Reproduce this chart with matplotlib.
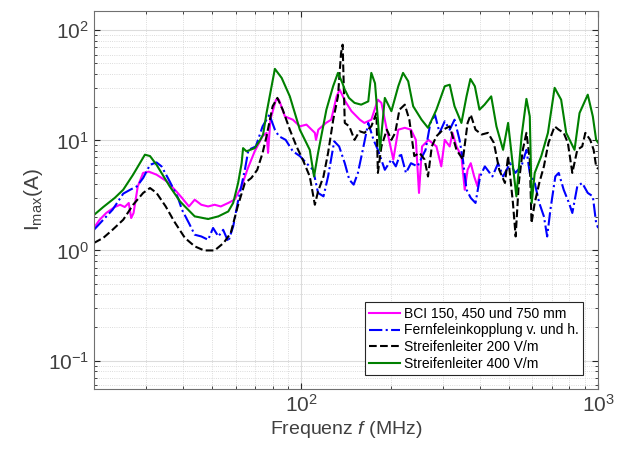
import numpy as np
import matplotlib
matplotlib.use("Agg")
import matplotlib.pyplot as plt
from matplotlib.ticker import LogLocator, NullFormatter

plt.rcParams['font.family'] = ['Liberation Sans', 'DejaVu Sans']
plt.rcParams['mathtext.fontset'] = 'custom'
plt.rcParams['mathtext.rm'] = 'Liberation Sans'
plt.rcParams['mathtext.it'] = 'Liberation Sans:italic'

# BCI 150, 450 und 750 mm
f_bci = [20, 20.9, 22.0, 23.5, 24.5, 25.4, 26.2, 26.7, 27.2, 28.1, 29.3, 30.6, 32.5, 35.2, 37.9,
         39.6, 41.8, 43.7, 46, 48.5, 51, 53.5, 56.7, 59.5, 62.9, 65.7, 69.6, 74, 76.3, 77.2,
         78.6, 82.1, 84, 88, 93.6, 98.8, 104, 111, 112, 114, 121, 126, 131.4, 134.6, 140,
         147.5, 157.4, 163, 172, 181, 186, 194, 204, 212, 223, 234, 243, 249, 255, 268,
         285, 296, 304, 316, 323, 333, 346, 355, 363, 372, 382, 392, 398]
i_bci = [1.6, 1.9, 2.19, 2.48, 2.6, 2.48, 2.7, 1.97, 2.19, 3.82, 5.06, 5.2, 4.88, 4.24, 3.44,
         3.0, 2.51, 2.89, 2.6, 2.51, 2.6, 2.51, 2.7, 2.89, 3.82, 5.4, 7.95, 10.9, 11.7, 7.7,
         15.4, 23.4, 23.4, 16.5, 15.4, 13.4, 13.9, 11.7, 10.1, 12.5, 14.4, 15.4, 25.1, 28.9, 23,
         18.4, 15.4, 14.4, 15.4, 23.4, 21.9, 12.5, 6.7, 12.5, 13, 12.5, 10.1, 3.33, 8.8, 10.1,
         8.8, 5.8, 10.1, 8.8, 11.7, 8.8, 7.2, 3.56, 5.4, 6.2, 4.7, 3.82, 4.88]

# Fernfeleinkopplung v. und h.
f_ff = [20, 21.5, 23.1, 25.1, 26.5, 27.9, 29.3, 30.9, 32.5, 33.8, 36.0, 38.4, 39.6, 41.8, 43.7,
        46, 48.5, 50.4, 52.5, 54.5, 56.7, 58.9, 61, 64.5, 66.3, 70.2, 74, 78, 81.4, 84, 88.5,
        93.6, 98.8, 104, 109.5, 113.8, 118.7, 123, 129, 134, 140, 145, 150, 155, 161, 168,
        175, 181, 191, 201, 208, 216, 225, 234, 246, 262, 272, 282, 292, 304, 316, 328, 341,
        350, 360, 372, 386, 400, 415, 440, 460, 478, 505, 525, 551, 573, 588, 611, 633, 656,
        673, 690, 717, 736, 765, 797, 818, 850, 883, 922, 959, 984, 1000]
i_ff = [1.54, 1.9, 2.34, 3.28, 3.56, 3.82, 4.55, 6.0, 6.3, 5.8, 4.24, 3.0, 2.34, 1.77, 1.39,
        1.34, 1.25, 1.6, 1.34, 1.54, 1.2, 1.65, 2.7, 5.4, 8.2, 8.8, 13.4, 17.1, 12.5, 10.9, 10.1,
        7.95, 7.2, 6.2, 5.4, 3.33, 3.1, 4.7, 9.8, 8.8, 6.2, 4.39, 3.96, 5.06, 8.2, 14.4,
        10.1, 8.2, 5.4, 6.7, 5.8, 7.7, 5.06, 6.2, 5.8, 8.2, 14.4, 17, 11.7, 14.9, 12.5, 15.4, 10.1,
        6.7, 3.56, 3.0, 2.7, 4.7, 5.8, 4.7, 6.2, 4.7, 6.2, 5.06, 5.8, 8.2, 5.06, 4.1, 2.7, 2.04,
        1.34, 2.34, 4.7, 5.06, 3.56, 2.7, 2.19, 3.82, 4.1, 3.33, 3.1, 1.77, 1.6]

# Streifenleiter 200 V/m
f_s200 = [20, 21.5, 23.1, 25.1, 27.1, 29.3, 30.9, 32.5, 34.9, 37.3, 40.5, 43.7, 47, 51, 54.7,
          57.8, 61, 64.5, 67.8, 71, 74, 76.3, 80, 83, 86.5, 91.4, 96.3, 101, 106.7, 111,
          113.8, 118.7, 123, 128, 132.8, 136, 137.7, 140, 145, 151, 157, 163, 172, 179, 181,
          186, 194, 201, 207, 214, 223, 231, 240, 250, 260, 267, 275, 285, 300, 316, 333, 350,
          363, 372, 386, 405, 425, 445, 464, 485, 497, 516, 527, 540, 557, 573, 588, 596, 611,
          633, 656, 680, 713, 736, 765, 790, 818, 850, 883, 905, 940, 965, 984, 1000]
i_s200 = [1.17, 1.3, 1.54, 1.9, 2.6, 3.33, 3.69, 3.33, 2.51, 1.83, 1.3, 1.09, 1.0, 1.0, 1.17,
          1.44, 2.51, 4.1, 4.55, 5.4, 7.7, 10.9, 20.4, 24.3, 19, 12.5, 8.8, 6.7, 4.7, 2.6,
          3.44, 4.7, 7.7, 15.4, 25.1, 62, 74, 14.4, 13.4, 10.1, 12.1, 11.7, 13.4, 17.7, 5.06,
          8.8, 12.5, 10.1, 11.7, 19, 21.1, 15.4, 7.2, 7.7, 6.7, 4.7, 8.8, 10.9, 12.5, 13.4, 8.2, 6.7,
          14.4, 17.1, 12.5, 11.3, 11.7, 9.5, 5.4, 4.1, 7.2, 2.7, 1.34, 4.1, 8.2, 11.7, 6.7, 1.77, 2.7,
          4.1, 5.8, 9.5, 13.4, 12.5, 11.7, 9.5, 5.06, 8.2, 8.8, 11.7, 10.1, 8.2, 5.8, 5.5]

# Streifenleiter 400 V/m
f_s400 = [20, 21.5, 23.5, 25.1, 27.1, 29.7, 30.9, 32.5, 36.0, 39.0, 40.5, 43.7, 48.5, 52.5,
          56.7, 58.9, 61.2, 62.9, 63.6, 65.3, 69.6, 72.5, 74.3, 76.3, 81.4, 85.8, 91.4, 98.8,
          106.7, 110.3, 113.8, 121.4, 127.9, 132.8, 137.4, 140, 144.6, 151, 159, 168, 172, 177,
          181, 184, 191, 201, 212, 220, 229, 238, 254, 267, 280, 285, 304, 316, 328, 346, 360,
          371, 384, 398, 414, 436, 454, 478, 497, 516, 530, 552, 573, 588, 597, 611, 643, 677,
          713, 750, 780, 832, 865, 922, 959, 984, 1000]
i_s400 = [2.1, 2.48, 3.0, 3.56, 4.88, 7.41, 7.2, 6.0, 3.82, 2.79, 2.51, 2.04, 1.93, 2.04,
          2.26, 2.7, 4.1, 6.2, 8.5, 7.95, 8.5, 10, 11.3, 17.7, 44.6, 36.9, 25.1, 12.5,
          8.2, 4.7, 7.7, 19, 31, 41, 33.2, 28.9, 24.3, 21.9, 21.1, 22.6, 41, 33,
          15.4, 8.2, 24.3, 18.4, 31, 41, 34.4, 20.4, 15.4, 13, 17.1, 19, 31, 32, 20.4, 14.4, 25.1,
          36.1, 31, 19, 21.1, 25.1, 13.4, 8.2, 14.4, 5.8, 3.1, 11, 23.8, 16.5, 2.7, 5.06, 7.2, 11.7,
          30, 23.4, 11.7, 8.2, 17.7, 26, 16.5, 10.1, 9.5]

fig = plt.figure(figsize=(6.18, 4.53), dpi=100)
ax = fig.add_axes([0.152, 0.141, 0.816, 0.835])

ax.plot(f_bci, i_bci, color=(1, 0, 1), lw=1.5, label='BCI 150, 450 und 750 mm')
ax.plot(f_ff, i_ff, color=(0, 0, 1), lw=1.5, ls='-.', label='Fernfeleinkopplung v. und h.')
ax.plot(f_s200, i_s200, color='black', lw=1.5, ls='--', label='Streifenleiter 200 V/m')
ax.plot(f_s400, i_s400, color=(0, 0.5, 0), lw=1.5, label='Streifenleiter 400 V/m')

ax.set_xscale('log')
ax.set_yscale('log')
ax.set_xlim(20, 1000)
ax.set_ylim(0.055, 150)

ax.xaxis.set_major_locator(LogLocator(base=10, numticks=10))
ax.yaxis.set_major_locator(LogLocator(base=10, numticks=10))
ax.xaxis.set_minor_locator(LogLocator(base=10, subs=np.arange(2, 10), numticks=20))
ax.yaxis.set_minor_locator(LogLocator(base=10, subs=np.arange(2, 10), numticks=20))
ax.xaxis.set_minor_formatter(NullFormatter())
ax.yaxis.set_minor_formatter(NullFormatter())

gc = '#262626'
ax.grid(True, which='major', color='#dcdcdc', lw=0.8, ls='-')
ax.grid(True, which='minor', color='#d0d0d0', lw=0.6, ls=':')
ax.set_axisbelow(True)
ax.tick_params(which='both', direction='in', top=True, right=True, colors=gc,
               labelcolor='#404040', labelsize=15)
ax.tick_params(which='major', length=4)
ax.tick_params(which='minor', length=2)
for s in ax.spines.values():
    s.set_color('#707070')
    s.set_linewidth(0.8)

ax.set_xlabel('Frequenz $\\mathit{f}$ (MHz)', fontsize=14, color='#404040', labelpad=2)
ax.set_ylabel('I$_\\mathregular{max}$(A)', fontsize=15, color='#404040', labelpad=2)

leg = ax.legend(loc='lower right', bbox_to_anchor=(0.970, 0.037), borderaxespad=0,
                fontsize=10, fancybox=False, framealpha=1, edgecolor='#262626',
                handlelength=2.2, handletextpad=0.3, borderpad=0.3, labelspacing=0.2)
leg.get_frame().set_linewidth(0.8)

fig.savefig('out.png', dpi=100)
